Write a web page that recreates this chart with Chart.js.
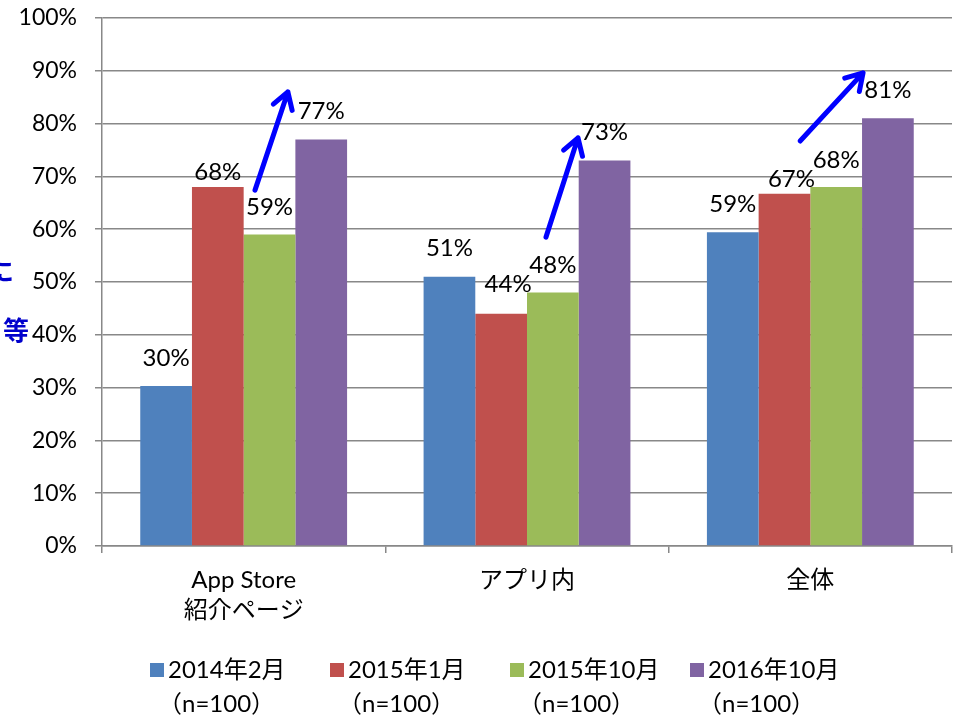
<!DOCTYPE html>
<html>
<head>
<meta charset="utf-8">
<script src="https://cdn.jsdelivr.net/npm/chart.js@4/dist/chart.umd.min.js"></script>
<style>
  html, body { margin: 0; padding: 0; background: #fff; }
  #wrap { width: 959px; height: 717px; }
</style>
</head>
<body>
<div id="wrap"><canvas id="chart" width="959" height="717"></canvas></div>
<script>
// data
const categories = [['App Store', '紹介ページ'], 'アプリ内', '全体'];
const seriesLabels = ['2014年2月', '2015年1月', '2015年10月', '2016年10月'];
const sampleNote = '（n=100）';
const feb2014 = [30.3, 51, 59.4];
const jan2015 = [68, 44, 66.7];
const oct2015 = [59, 48, 68];
const oct2016 = [77, 73, 81];
const yTicks = [0, 10, 20, 30, 40, 50, 60, 70, 80, 90, 100];

// arrows: [category, offset within category, value] -> [category, offset, value]
const arrows = [
  { from: [0, 0.04, 67.4], to: [0, 0.156, 86.0] },
  { from: [1, 0.067, 58.5], to: [1, 0.18, 77.3] },
  { from: [2, -0.036, 76.7], to: [2, 0.186, 89.6] }
];

const colors = ['#4F81BD', '#C0504D', '#9BBB59', '#8064A2'];
const FONT = "Lato, 'Noto Sans CJK JP', sans-serif";

// label lift above bar top, per series (red labels sit lower in the original)
const labelLift = [28, 15, 27, 28];

const valueLabels = {
  id: 'valueLabels',
  afterDatasetsDraw(chart) {
    const ctx = chart.ctx;
    ctx.save();
    ctx.font = '24px ' + FONT;
    ctx.fillStyle = '#000';
    ctx.textAlign = 'center';
    ctx.textBaseline = 'middle';
    chart.data.datasets.forEach((ds, i) => {
      chart.getDatasetMeta(i).data.forEach((bar, j) => {
        const v = Math.round(ds.data[j]);
        let lift = labelLift[i], dx = 0;
        if (i === 1 && j === 1) { lift = 29; dx = 7; }
        if (i === 1 && j === 2) { dx = 7; }
        ctx.fillText(v + '%', bar.x + dx, bar.y - lift);
      });
    });
    ctx.restore();
  }
};

const arrowPlugin = {
  id: 'arrowPlugin',
  afterDraw(chart) {
    const ctx = chart.ctx;
    const xs = chart.scales.x, ys = chart.scales.y;
    const catW = (chart.chartArea.right - chart.chartArea.left) / categories.length;
    const pt = p => [xs.getPixelForValue(p[0]) + p[1] * catW, ys.getPixelForValue(p[2])];
    ctx.save();
    ctx.strokeStyle = '#0000FF';
    ctx.lineWidth = 5;
    ctx.lineCap = 'round';
    ctx.lineJoin = 'round';
    arrows.forEach(a => {
      const [x1, y1] = pt(a.from);
      const [x2, y2] = pt(a.to);
      const ang = Math.atan2(y2 - y1, x2 - x1);
      const hl = 19, spread = 0.55;
      ctx.beginPath();
      ctx.moveTo(x1, y1);
      ctx.lineTo(x2, y2);
      ctx.moveTo(x2 - hl * Math.cos(ang - spread), y2 - hl * Math.sin(ang - spread));
      ctx.lineTo(x2, y2);
      ctx.lineTo(x2 - hl * Math.cos(ang + spread), y2 - hl * Math.sin(ang + spread));
      ctx.stroke();
    });

    // clipped note text at the left edge
    ctx.fillStyle = '#0000CC';
    ctx.font = 'bold 26px ' + FONT;
    ctx.textBaseline = 'middle';
    ctx.textAlign = 'right';
    ctx.fillText('に', 14, 273);
    ctx.fillText('等', 29, 332);
    ctx.restore();
  }
};

const bottomLegend = {
  id: 'bottomLegend',
  afterDraw(chart) {
    const ctx = chart.ctx;
    ctx.save();
    ctx.font = '24px ' + FONT;
    ctx.textBaseline = 'middle';
    ctx.textAlign = 'left';
    chart.data.datasets.forEach((ds, i) => {
      const x = 150 + i * 180;
      ctx.fillStyle = ds.backgroundColor;
      ctx.fillRect(x, 663, 14, 14);
      ctx.fillStyle = '#000';
      ctx.fillText(ds.label, x + 18, 670);
      ctx.fillText(sampleNote, x + 8, 704);
    });
    ctx.restore();
  }
};

new Chart(document.getElementById('chart'), {
  type: 'bar',
  data: {
    labels: categories,
    datasets: [
      { label: seriesLabels[0], data: feb2014, backgroundColor: colors[0] },
      { label: seriesLabels[1], data: jan2015, backgroundColor: colors[1] },
      { label: seriesLabels[2], data: oct2015, backgroundColor: colors[2] },
      { label: seriesLabels[3], data: oct2016, backgroundColor: colors[3] }
    ]
  },
  options: {
    responsive: false,
    animation: false,
    layout: { padding: { top: 18, right: 7, left: 0, bottom: 0 } },
    datasets: { bar: { barPercentage: 1, categoryPercentage: 0.73, borderWidth: 0 } },
    plugins: {
      legend: { display: false },
      tooltip: { enabled: false }
    },
    scales: {
      x: {
        afterFit(scale) { scale.height = 171; scale.paddingLeft = 0; scale.paddingRight = 0; },
        grid: { offset: true, drawOnChartArea: false, drawTicks: true, tickLength: 7, color: '#888', lineWidth: 1.5 },
        border: { color: '#888', width: 1.5 },
        ticks: { color: '#000', padding: 12, font: { family: FONT, size: 24, lineHeight: 1.25 } }
      },
      y: {
        min: 0,
        max: 100,
        afterFit(scale) { scale.width = 102; scale.paddingTop = 0; scale.paddingBottom = 0; },
        afterBuildTicks(scale) { scale.ticks = yTicks.map(v => ({ value: v })); },
        grid: { color: '#888', lineWidth: 1.5, tickLength: 7 },
        border: { color: '#888', width: 1.5 },
        ticks: {
          color: '#000',
          padding: 18,
          font: { family: FONT, size: 23 },
          callback: v => v + '%'
        }
      }
    }
  },
  plugins: [valueLabels, arrowPlugin, bottomLegend]
});
</script>
</body>
</html>
